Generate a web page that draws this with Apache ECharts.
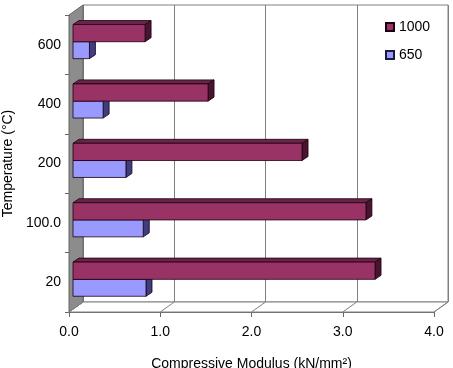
<!DOCTYPE html>
<html>
<head>
<meta charset="utf-8" />
<title>Compressive Modulus</title>
<script src="https://cdn.jsdelivr.net/npm/echarts@6.0.0/dist/echarts.min.js"></script>
<style>
    html, body { margin: 0; padding: 0; background: #fff; }
    #main { width: 453px; height: 368px; }
</style>
</head>
<body>
<div id="main"></div>
<script>
// temperatures (bottom to top) and modulus per curing series
var temps = ['20', '100.0', '200', '400', '600'];
var modulus1000 = [3.31, 3.21, 2.51, 1.48, 0.79];
var modulus650 = [0.80, 0.77, 0.58, 0.33, 0.18];
var xTicks = [0, 1, 2, 3, 4];

var FONT = 'Liberation Sans, Arial, sans-serif';
var DEPTH = [14, -10];     // depth of the 3d box
var BAR_DEPTH = [6, -4];   // depth of each bar
var BAR_SHIFT = 4;         // bars sit a little behind the front plane

function toPairs(arr) {
    return arr.map(function (v, i) { return [v, i]; });
}

// draws one pseudo-3d bar, lo/hi are fractions of the band around its centre
function barRenderer(lo, hi, front, top, side) {
    return function (params, api) {
        var v = api.value(0), c = api.value(1);
        var p0 = api.coord([0, c]);
        var p1 = api.coord([v, c]);
        var band = api.size([0, 1])[1];
        var x0 = p0[0] + BAR_SHIFT, x1 = p1[0] + BAR_SHIFT;
        var y0 = p0[1] + lo * band, y1 = p0[1] + hi * band;
        var dx = BAR_DEPTH[0], dy = BAR_DEPTH[1];
        var line = { stroke: '#1a0010', lineWidth: 0.8 };
        return {
            type: 'group',
            children: [
                { type: 'polygon', shape: { points: [[x0, y0], [x0 + dx, y0 + dy], [x1 + dx, y0 + dy], [x1, y0]] },
                  style: Object.assign({ fill: top }, line) },
                { type: 'polygon', shape: { points: [[x1, y0], [x1 + dx, y0 + dy], [x1 + dx, y1 + dy], [x1, y1]] },
                  style: Object.assign({ fill: side }, line) },
                { type: 'rect', shape: { x: x0, y: y0, width: x1 - x0, height: y1 - y0 },
                  style: Object.assign({ fill: front }, line) }
            ]
        };
    };
}

// left wall and floor of the box
function boxRenderer(params, api) {
    var cs = params.coordSys;
    var x = cs.x, y = cs.y, w = cs.width, h = cs.height;
    var dx = DEPTH[0], dy = DEPTH[1];
    var children = [
        { type: 'polygon', shape: { points: [[x, y + h], [x + dx, y + h + dy], [x + w + dx, y + h + dy], [x + w, y + h]] },
          style: { fill: '#fff', stroke: '#808080', lineWidth: 1 } },
        { type: 'polygon', shape: { points: [[x, y], [x + dx, y + dy], [x + dx, y + h + dy], [x, y + h]] },
          style: { fill: '#8c8c8c', stroke: '#666', lineWidth: 1 } }
    ];
    xTicks.forEach(function (t) {
        var p = api.coord([t, 0]);
        children.push({ type: 'line', shape: { x1: p[0], y1: y + h, x2: p[0] + dx, y2: y + h + dy },
            style: { stroke: '#808080', lineWidth: 1 } });
    });
    return { type: 'group', children: children };
}

var myChart = echarts.init(document.getElementById('main'), null, { renderer: 'canvas' });
var option = {
    animation: false,
    textStyle: { fontFamily: FONT },
    legend: {
        orient: 'vertical',
        left: 380,
        top: 15,
        itemWidth: 8,
        itemHeight: 8,
        itemGap: 14,
        icon: 'rect',
        data: ['1000', '650'],
        textStyle: { fontSize: 14, color: '#000', fontFamily: FONT }
    },
    grid: [
        { left: 69, right: 19, top: 15, bottom: 56, outerBoundsMode: 'none' },
        { left: 83, right: 5, top: 5, bottom: 66, outerBoundsMode: 'none',
          show: true, borderColor: '#808080', borderWidth: 1, backgroundColor: 'transparent' }
    ],
    xAxis: [
        {
            gridIndex: 0, type: 'value', min: 0, max: 4, interval: 1,
            name: 'Compressive Modulus (kN/mm²)', nameLocation: 'middle', nameGap: 45,
            nameTextStyle: { fontSize: 14, color: '#000', fontFamily: FONT },
            axisLine: { show: true, lineStyle: { color: '#666', width: 1 } },
            axisTick: { show: true, length: 5, lineStyle: { color: '#666' } },
            axisLabel: { fontSize: 14, color: '#000', margin: 13, fontFamily: FONT,
                formatter: function (v) { return v.toFixed(1); } },
            splitLine: { show: false }
        },
        {
            gridIndex: 1, type: 'value', min: 0, max: 4, interval: 1,
            axisLine: { show: false }, axisTick: { show: false }, axisLabel: { show: false },
            splitLine: { show: true, lineStyle: { color: '#808080', width: 1 } }
        }
    ],
    yAxis: [
        {
            gridIndex: 0, type: 'category', data: temps,
            name: 'Temperature (°C)', nameLocation: 'middle', nameGap: 49,
            nameTextStyle: { fontSize: 14, color: '#000', fontFamily: FONT },
            axisLine: { show: true, lineStyle: { color: '#666', width: 1 } },
            axisTick: { show: true, length: 4, lineStyle: { color: '#666' } },
            axisLabel: { fontSize: 14, color: '#000', margin: 8, fontFamily: FONT },
            splitLine: { show: false }
        },
        {
            gridIndex: 1, type: 'category', data: temps, show: false
        }
    ],
    series: [
        {
            type: 'custom', name: 'box', xAxisIndex: 0, yAxisIndex: 0,
            data: [[0, 0]], renderItem: boxRenderer, silent: true, z: 1
        },
        {
            type: 'custom', name: '650', xAxisIndex: 0, yAxisIndex: 0,
            encode: { x: 0, y: 1 },
            data: toPairs(modulus650),
            itemStyle: { color: '#9999ff', borderColor: '#1a1a40', borderWidth: 1 },
            renderItem: barRenderer(-0.05, 0.235, '#9999ff', '#7a7acc', '#3d3d80'),
            z: 3
        },
        {
            type: 'custom', name: '1000', xAxisIndex: 0, yAxisIndex: 0,
            encode: { x: 0, y: 1 },
            data: toPairs(modulus1000),
            itemStyle: { color: '#993366', borderColor: '#1a0010', borderWidth: 1 },
            renderItem: barRenderer(-0.34, -0.05, '#993366', '#6b2447', '#4a1430'),
            z: 4
        }
    ]
};
myChart.setOption(option);
</script>
</body>
</html>
